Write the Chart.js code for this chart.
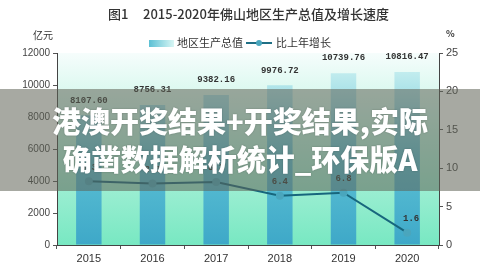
<!DOCTYPE html>
<html>
<head>
<meta charset="utf-8">
<script src="https://cdn.jsdelivr.net/npm/chart.js@4.4.0/dist/chart.umd.min.js"></script>
<style>
  html, body { margin: 0; padding: 0; background: #fff; }
  #wrap { position: relative; width: 480px; height: 280px; }
  #band {
    position: absolute; left: 0; top: 89px; width: 480px; height: 102px;
    background: rgba(95, 98, 85, 0.55);
    color: #fff; text-align: center;
    font: 900 29px "Noto Sans CJK SC", sans-serif;
    line-height: 38px; padding-top: 12px; box-sizing: border-box;
    text-shadow: 0 0 2px rgba(0,0,0,0.25);
  }
</style>
</head>
<body>
<div id="wrap">
  <canvas id="myChart" width="480" height="280"></canvas>
  <div id="band">港澳开奖结果+开奖结果,实际<br>确凿数据解析统计_环保版A</div>
</div>
<script>
// 佛山地区生产总值 (亿元) and growth (%)
const years = ["2015", "2016", "2017", "2018", "2019", "2020"];
const gdp = [8107.60, 8756.31, 9382.16, 9976.72, 10739.76, 10816.47];
const growth = [8.3, 8.0, 8.2, 6.4, 6.8, 1.6];
const gdpLabels = ["8107.60", "8756.31", "9382.16", "9976.72", "10739.76", "10816.47"];
const growthLabels = ["8.3", "8.0", "8.2", "6.4", "6.8", "1.6"];

const cjk = '"Noto Sans CJK SC", sans-serif';

function barGradient(context) {
  const area = context.chart.chartArea;
  if (!area) return "#5bb8d0";
  const g = context.chart.ctx.createLinearGradient(0, area.bottom, 0, area.top);
  g.addColorStop(0, "#3ea8c8");
  g.addColorStop(0.45, "#5cc0d4");
  g.addColorStop(1, "#d8f6f4");
  return g;
}

// plot background, value labels, title, legend and unit captions
const decor = {
  id: "decor",
  beforeDraw(chart) {
    const { ctx, chartArea: a } = chart;
    const g = ctx.createLinearGradient(0, a.top, 0, a.bottom);
    g.addColorStop(0, "#f6fdfc");
    g.addColorStop(0.5, "#b4f2dd");
    g.addColorStop(1, "#78e8c2");
    ctx.save();
    ctx.fillStyle = g;
    ctx.fillRect(a.left, a.top, a.right - a.left, a.bottom - a.top);
    ctx.restore();
  },
  afterDatasetsDraw(chart) {
    const ctx = chart.ctx;
    ctx.save();
    ctx.fillStyle = "#333";
    ctx.textAlign = "center";
    ctx.textBaseline = "middle";
    ctx.font = "bold 9px 'Liberation Mono', monospace";
    chart.getDatasetMeta(0).data.forEach((bar, i) => {
      ctx.fillText(gdpLabels[i], bar.x, bar.y - 15);
    });
    chart.getDatasetMeta(1).data.forEach((pt, i) => {
      ctx.fillText(growthLabels[i], pt.x + (i === 5 ? 4 : 0), pt.y - 14);
    });
    ctx.restore();
  },
  afterDraw(chart) {
    const ctx = chart.ctx;
    ctx.save();
    ctx.fillStyle = "#333";
    ctx.textBaseline = "middle";
    ctx.textAlign = "left";
    ctx.font = "500 13px " + cjk;
    ctx.fillText("图1", 108, 14);
    ctx.fillText("2015-2020年佛山地区生产总值及增长速度", 143, 14);

    ctx.font = "10px " + cjk;
    ctx.fillText("亿元", 33, 35);
    ctx.font = "bold 9px " + cjk;
    ctx.fillText("%", 446, 34);

    // legend
    const lg = ctx.createLinearGradient(149, 0, 174, 0);
    lg.addColorStop(0, "#5cc0d4");
    lg.addColorStop(1, "#d8f6f4");
    ctx.fillStyle = lg;
    ctx.fillRect(149, 40, 25, 7);
    ctx.fillStyle = "#333";
    ctx.font = "11px " + cjk;
    ctx.fillText("地区生产总值", 177, 43);
    ctx.strokeStyle = "#1f6f85";
    ctx.lineWidth = 2;
    ctx.beginPath();
    ctx.moveTo(246, 43);
    ctx.lineTo(272, 43);
    ctx.stroke();
    ctx.fillStyle = "#4aa6bd";
    ctx.beginPath();
    ctx.arc(259, 43, 3, 0, Math.PI * 2);
    ctx.fill();
    ctx.fillStyle = "#333";
    ctx.fillText("比上年增长", 276, 43);
    ctx.restore();
  }
};

const canvas = document.getElementById("myChart");
const ctx = canvas.getContext("2d");

new Chart(ctx, {
  type: "bar",
  data: {
    labels: years,
    datasets: [{
      label: "地区生产总值",
      data: gdp,
      backgroundColor: barGradient,
      barPercentage: 0.4,
      categoryPercentage: 1,
      yAxisID: "y",
      order: 2
    }, {
      type: "line",
      label: "比上年增长",
      data: growth,
      borderColor: "#17667d",
      borderWidth: 2,
      pointRadius: 3,
      pointBackgroundColor: "#4aa6bd",
      pointBorderColor: "#4aa6bd",
      tension: 0,
      yAxisID: "y1",
      order: 1
    }]
  },
  plugins: [decor],
  options: {
    responsive: false,
    animation: false,
    layout: { padding: { top: 53, left: 0, right: 0, bottom: 0 } },
    plugins: { legend: { display: false }, tooltip: { enabled: false } },
    scales: {
      x: {
        offset: true,
        grid: { drawOnChartArea: false, tickLength: 4, color: "#555" },
        border: { color: "#444" },
        ticks: { color: "#333", font: { size: 11, family: "Liberation Sans" }, padding: 3 },
        afterFit: s => { s.height = 35; }
      },
      y: {
        position: "left",
        min: 0, max: 12000,
        ticks: {
          stepSize: 2000, color: "#444", padding: 3,
          font: { size: 10, family: "Liberation Sans" },
          callback: v => String(v)
        },
        grid: { drawOnChartArea: false, tickLength: 4, color: "#555" },
        border: { color: "#444" },
        afterFit: s => { s.width = 57; }
      },
      y1: {
        position: "right",
        min: 0, max: 25,
        ticks: {
          stepSize: 5, color: "#444", padding: 3,
          font: { size: 11, family: "Liberation Sans" },
          callback: v => String(v)
        },
        grid: { drawOnChartArea: false, tickLength: 4, color: "#555" },
        border: { color: "#444" },
        afterFit: s => { s.width = 41; }
      }
    }
  }
});
</script>
</body>
</html>
